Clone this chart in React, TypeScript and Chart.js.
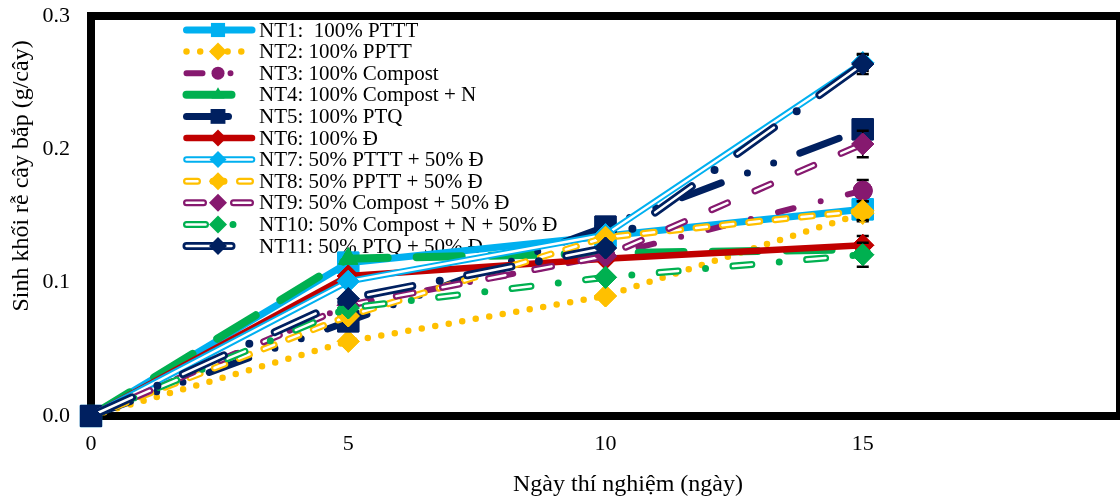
import React, { useEffect, useRef } from 'react';
import { Chart, registerables } from 'chart.js';

Chart.register(...registerables);

// ---------- data ----------
const days = [0, 5, 10, 15];
const xTicks = [0, 5, 10, 15, 20];
const yTicks = [0, 0.1, 0.2, 0.3];

const seriesLabels = [
  'NT1:  100% PTTT',
  'NT2: 100% PPTT',
  'NT3: 100% Compost',
  'NT4: 100% Compost + N',
  'NT5: 100% PTQ',
  'NT6: 100% Đ',
  'NT7: 50% PTTT + 50% Đ',
  'NT8: 50% PPTT + 50% Đ',
  'NT9: 50% Compost + 50% Đ',
  'NT10: 50% Compost + N + 50% Đ',
  'NT11: 50% PTQ + 50% Đ',
];

const nt1 = [0, 0.115, 0.135, 0.155];
const nt2 = [0, 0.056, 0.09, 0.152];
const nt3 = [0, 0.083, 0.12, 0.169];
const nt4 = [0, 0.118, 0.122, 0.125];
const nt5 = [0, 0.071, 0.142, 0.215];
const nt6 = [0, 0.105, 0.118, 0.128];
const nt7 = [0, 0.101, 0.136, 0.265];
const nt8 = [0, 0.075, 0.134, 0.154];
const nt9 = [0, 0.083, 0.12, 0.204];
const nt10 = [0, 0.081, 0.104, 0.121];
const nt11 = [0, 0.088, 0.126, 0.264];

const nt1Err = [0, 0, 0, 0.009];
const nt2Err = [0, 0, 0, 0.005];
const nt3Err = [0, 0, 0, 0.008];
const nt4Err = [0, 0, 0, 0.004];
const nt5Err = [0, 0, 0, 0.005];
const nt6Err = [0, 0, 0, 0.007];
const nt7Err = [0, 0, 0, 0.006];
const nt8Err = [0, 0, 0, 0.007];
const nt9Err = [0, 0, 0, 0.01];
const nt10Err = [0, 0, 0, 0.009];
const nt11Err = [0, 0, 0, 0.0075];

const seriesValues = [nt1, nt2, nt3, nt4, nt5, nt6, nt7, nt8, nt9, nt10, nt11];
const seriesErrors = [nt1Err, nt2Err, nt3Err, nt4Err, nt5Err, nt6Err, nt7Err, nt8Err, nt9Err, nt10Err, nt11Err];

const xTitle = 'Ngày thí nghiệm (ngày)';
const yTitle = 'Sinh khối rễ cây bắp (g/cây)';

// ---------- styles ----------
const LB = '#00B0F0';
const YE = '#FFC000';
const PU = '#86196F';
const GR = '#00B050';
const NV = '#002060';
const RD = '#C00000';
const FONT = '"Times New Roman", "Liberation Serif", serif';

type St = {
  color: string;
  width: number;
  dash: number[];
  point: string;
  r: number;
  lr: number;
  inner?: number;
  innerDash?: number[];
};

const styles: St[] = [
  { color: LB, width: 7, dash: [], point: 'rect', r: 15, lr: 10 },
  { color: YE, width: 6.5, dash: [0, 13.7], point: 'rectRot', r: 11, lr: 9 },
  { color: PU, width: 6, dash: [16, 28, 0, 28], point: 'circle', r: 9.5, lr: 6.5 },
  { color: GR, width: 8, dash: [45, 29], point: 'triangle', r: 11, lr: 7.5 },
  { color: NV, width: 7, dash: [42, 28, 0, 28, 0, 28], point: 'rect', r: 15, lr: 10.5 },
  { color: RD, width: 6.5, dash: [], point: 'rectRot', r: 11, lr: 8.5 },
  { color: LB, width: 6.5, dash: [], point: 'rectRot', r: 11, lr: 8.5, inner: 2.5 },
  { color: YE, width: 7, dash: [11, 15.5], point: 'rectRot', r: 11, lr: 9, inner: 2.5 },
  { color: PU, width: 7, dash: [17, 30], point: 'rectRot', r: 11, lr: 9, inner: 2.5 },
  { color: GR, width: 7, dash: [19, 27.5, 0, 27.5], point: 'rectRot', r: 11, lr: 9, inner: 2.5, innerDash: [19, 55] },
  { color: NV, width: 8, dash: [45, 28, 0, 28], point: 'rectRot', r: 11, lr: 9, inner: 2.5, innerDash: [45, 56] },
];

function markerPath(ctx: CanvasRenderingContext2D, kind: string, x: number, y: number, r: number) {
  ctx.beginPath();
  if (kind === 'rect') {
    const h = r * Math.SQRT1_2;
    ctx.rect(x - h, y - h, 2 * h, 2 * h);
  } else if (kind === 'rectRot') {
    ctx.moveTo(x - r, y);
    ctx.lineTo(x, y - r);
    ctx.lineTo(x + r, y);
    ctx.lineTo(x, y + r);
    ctx.closePath();
  } else if (kind === 'circle') {
    ctx.arc(x, y, r, 0, Math.PI * 2);
  } else if (kind === 'triangle') {
    for (let k = 0; k < 3; k++) {
      const a = (k * 2 * Math.PI) / 3;
      const px = x + Math.sin(a) * r;
      const py = y - Math.cos(a) * r;
      if (k === 0) ctx.moveTo(px, py);
      else ctx.lineTo(px, py);
    }
    ctx.closePath();
  }
}

const customPlugin = {
  id: 'customDecor',
  beforeDatasetsDraw(chart: any) {
    const ctx: CanvasRenderingContext2D = chart.ctx;
    const a = chart.chartArea;
    ctx.save();
    // plot border
    ctx.strokeStyle = '#000';
    ctx.lineWidth = 8;
    ctx.setLineDash([]);
    ctx.strokeRect(a.left, a.top, a.right - a.left, a.bottom - a.top);

    // legend
    const x1 = 186.5;
    const x2 = 252;
    const mx = 218;
    const textX = 259;
    seriesLabels.forEach((lab, i) => {
      const s = styles[i];
      const y = 30 + i * 21.6;
      ctx.lineCap = 'round';
      ctx.lineJoin = 'round';
      ctx.setLineDash(s.dash);
      ctx.lineDashOffset = 0;
      ctx.lineWidth = s.width;
      ctx.strokeStyle = s.color;
      ctx.beginPath();
      ctx.moveTo(x1, y);
      ctx.lineTo(x2, y);
      ctx.stroke();
      if (s.inner) {
        ctx.setLineDash(s.innerDash || s.dash);
        ctx.lineWidth = s.inner;
        ctx.strokeStyle = '#ffffff';
        ctx.beginPath();
        ctx.moveTo(x1, y);
        ctx.lineTo(x2, y);
        ctx.stroke();
      }
      ctx.setLineDash([]);
      markerPath(ctx, s.point, mx, y, s.lr);
      ctx.fillStyle = s.color;
      ctx.fill();
      ctx.fillStyle = '#000';
      ctx.font = `21px ${FONT}`;
      ctx.textAlign = 'left';
      ctx.textBaseline = 'middle';
      ctx.fillText(lab, textX, y + 1);
    });
    ctx.restore();
  },
  afterDatasetDraw(chart: any, args: any) {
    const ctx: CanvasRenderingContext2D = chart.ctx;
    const i = args.index;
    const meta = args.meta;
    const s = styles[i];
    const pts = meta.data;
    ctx.save();
    if (s.inner) {
      ctx.lineCap = 'round';
      ctx.lineJoin = 'round';
      ctx.setLineDash(s.innerDash || s.dash);
      ctx.lineDashOffset = 0;
      ctx.lineWidth = s.inner;
      ctx.strokeStyle = '#ffffff';
      ctx.beginPath();
      pts.forEach((p: any, k: number) => {
        if (k === 0) ctx.moveTo(p.x, p.y);
        else ctx.lineTo(p.x, p.y);
      });
      ctx.stroke();
    }
    // error bars
    ctx.setLineDash([]);
    ctx.strokeStyle = '#000';
    ctx.lineCap = 'butt';
    const yScale = chart.scales.y;
    const vals = seriesValues[i];
    const errs = seriesErrors[i];
    pts.forEach((p: any, k: number) => {
      const e = errs[k];
      if (!e) return;
      const yt = yScale.getPixelForValue(vals[k] + e);
      const yb = yScale.getPixelForValue(vals[k] - e);
      ctx.lineWidth = 1.5;
      ctx.beginPath();
      ctx.moveTo(p.x, yt);
      ctx.lineTo(p.x, yb);
      ctx.stroke();
      ctx.lineWidth = 2.5;
      ctx.beginPath();
      ctx.moveTo(p.x - 6, yt);
      ctx.lineTo(p.x + 6, yt);
      ctx.moveTo(p.x - 6, yb);
      ctx.lineTo(p.x + 6, yb);
      ctx.stroke();
    });
    ctx.restore();
    // redraw markers on top
    pts.forEach((p: any) => p.draw(ctx, chart.chartArea));
  },
  afterDraw(chart: any) {
    const ctx: CanvasRenderingContext2D = chart.ctx;
    ctx.save();
    ctx.fillStyle = '#000';
    ctx.font = `24px ${FONT}`;
    ctx.textAlign = 'center';
    ctx.textBaseline = 'middle';
    ctx.fillText(xTitle, 628, 485);
    ctx.translate(22, 176);
    ctx.rotate(-Math.PI / 2);
    ctx.fillText(yTitle, 0, 0);
    ctx.restore();
  },
};

function zeroPadding(sc: any) {
  sc.paddingTop = 0;
  sc.paddingBottom = 0;
  sc.paddingLeft = 0;
  sc.paddingRight = 0;
}

export default function App() {
  const ref = useRef<HTMLCanvasElement | null>(null);

  useEffect(() => {
    if (!ref.current) return;
    const datasets = seriesValues.map((vals, i) => {
      const s = styles[i];
      return {
        label: seriesLabels[i],
        data: days.map((d, k) => ({ x: d, y: vals[k] })),
        borderColor: s.color,
        backgroundColor: s.color,
        borderWidth: s.width,
        borderDash: s.dash,
        borderCapStyle: 'round',
        borderJoinStyle: 'round',
        pointStyle: s.point,
        pointRadius: s.r,
        pointBackgroundColor: s.color,
        pointBorderColor: s.color,
        pointBorderWidth: 1,
        tension: 0,
        fill: false,
        clip: false,
        order: seriesValues.length - 1 - i,
      };
    });

    const chart = new Chart(ref.current, {
      type: 'line',
      data: { datasets: datasets as any },
      plugins: [customPlugin as any],
      options: {
        animation: false,
        responsive: false,
        events: [],
        layout: { autoPadding: false, padding: { top: 16, right: 0, bottom: 0, left: 0 } },
        plugins: {
          legend: { display: false },
          tooltip: { enabled: false },
          title: { display: false },
        },
        scales: {
          x: {
            type: 'linear',
            min: 0,
            max: 20,
            afterFit: (sc: any) => {
              sc.height = 83;
              zeroPadding(sc);
            },
            afterBuildTicks: (sc: any) => {
              sc.ticks = xTicks.map((v) => ({ value: v }));
            },
            grid: { display: false, drawTicks: false },
            border: { display: false },
            ticks: {
              padding: 15,
              color: '#000',
              font: { family: FONT, size: 22 },
              maxRotation: 0,
              callback: (v: any) => (Number(v) === 20 ? '' : String(v)),
            },
          },
          y: {
            type: 'linear',
            min: 0,
            max: 0.3,
            afterFit: (sc: any) => {
              sc.width = 91;
              zeroPadding(sc);
            },
            afterBuildTicks: (sc: any) => {
              sc.ticks = yTicks.map((v) => ({ value: v }));
            },
            grid: { display: false, drawTicks: false },
            border: { display: false },
            ticks: {
              padding: 21,
              color: '#000',
              font: { family: FONT, size: 22 },
              callback: (v: any) => Number(v).toFixed(1),
            },
          },
        },
      },
    });
    return () => chart.destroy();
  }, []);

  return (
    <div style={{ position: 'fixed', left: 0, top: 0, width: 1120, height: 499, background: '#fff' }}>
      <canvas ref={ref} width={1120} height={499} style={{ display: 'block' }} />
    </div>
  );
}
